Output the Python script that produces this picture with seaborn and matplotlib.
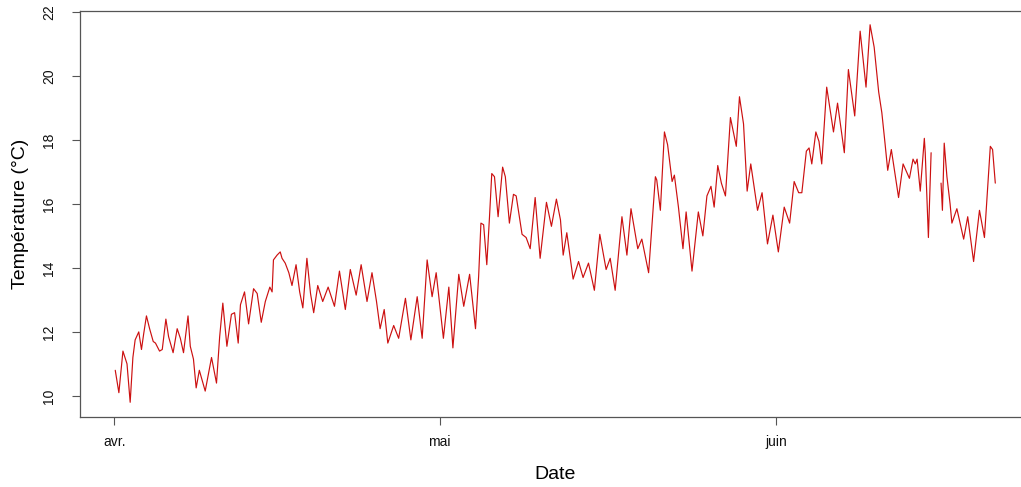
import numpy as np
import pandas as pd
import matplotlib
matplotlib.use("Agg")
import matplotlib.pyplot as plt
import seaborn as sns

# relevés horaires (heures depuis le 1er avril)
start = "2019-04-01"
hours = [2, 10, 19, 28, 35, 41, 46, 54, 60, 65,
         71, 78, 86, 91, 100, 106, 114, 120, 130, 139,
         146, 153, 163, 168, 175, 181, 188, 194, 201, 215,
         226, 233, 240, 249, 259, 266, 274, 279, 288, 297,
         308, 316, 325, 334, 344, 349, 352, 360, 367, 371,
         378, 386, 393, 402, 410, 417, 426, 434, 441, 450,
         461, 473, 487, 498, 511, 522, 535, 546, 559, 570,
         580, 588, 597, 605, 618, 629, 644, 656, 670, 681,
         692, 703, 712, 728, 740, 749, 762, 773, 786, 799,
         806, 811, 817, 824, 830, 835, 841, 849, 859, 865,
         874, 883, 889, 902, 911, 920, 931, 942, 956, 967,
         978, 987, 993, 1001, 1015, 1027, 1037, 1049, 1062, 1074,
         1088, 1097, 1108, 1123, 1134, 1143, 1158, 1167, 1182, 1197,
         1200, 1208, 1217, 1224, 1234, 1239, 1248, 1258, 1265, 1278,
         1292, 1302, 1311, 1320, 1327, 1335, 1343, 1352, 1363, 1376,
         1383, 1392, 1400, 1408, 1423, 1433, 1445, 1457, 1469, 1482,
         1494, 1504, 1514, 1521, 1531, 1537, 1543, 1552, 1559, 1565,
         1576, 1591, 1600, 1615, 1624, 1638, 1650, 1663, 1672, 1681,
         1691, 1698, 1705, 1711, 1719, 1735, 1745, 1759, 1767, 1772,
         1776, 1783, 1792, 1794, 1801, 1807, 1818, 1829, 1832, 1836,
         1842, 1849, 1853, 1864, 1879, 1888, 1901, 1914, 1925, 1938, 1943, 1949]
temps = [10.8, 10.1, 11.4, 11.0, 9.8, 11.2, 11.75, 12.0, 11.45, 11.95,
         12.5, 12.1, 11.7, 11.65, 11.4, 11.45, 12.4, 11.85, 11.35, 12.1,
         11.8, 11.35, 12.5, 11.55, 11.15, 10.25, 10.8, 10.5, 10.15, 11.2,
         10.4, 11.85, 12.9, 11.55, 12.55, 12.6, 11.65, 12.85, 13.25, 12.25,
         13.35, 13.2, 12.3, 12.95, 13.4, 13.25, 14.25, 14.4, 14.5, 14.3,
         14.15, 13.85, 13.45, 14.1, 13.25, 12.75, 14.3, 13.2, 12.6, 13.45,
         12.95, 13.4, 12.8, 13.9, 12.7, 13.95, 13.15, 14.1, 12.95, 13.85,
         12.95, 12.1, 12.7, 11.65, 12.2, 11.8, 13.05, 11.75, 13.1, 11.8,
         14.25, 13.1, 13.85, 11.8, 13.4, 11.5, 13.8, 12.8, 13.8, 12.1,
         13.75, 15.4, 15.35, 14.1, 15.6, 16.95, 16.85, 15.6, 17.15, 16.85,
         15.4, 16.3, 16.25, 15.05, 14.95, 14.6, 16.2, 14.3, 16.05, 15.3,
         16.15, 15.5, 14.4, 15.1, 13.65, 14.2, 13.7, 14.15, 13.3, 15.05,
         13.95, 14.3, 13.3, 15.6, 14.4, 15.85, 14.6, 14.9, 13.85, 16.85,
         16.75, 15.8, 18.25, 17.85, 16.7, 16.9, 15.9, 14.6, 15.75, 13.9,
         15.75, 15.0, 16.25, 16.55, 15.9, 17.2, 16.65, 16.25, 18.7, 17.8,
         19.35, 18.5, 16.4, 17.25, 15.8, 16.35, 14.75, 15.65, 14.5, 15.9,
         15.4, 16.7, 16.35, 16.35, 17.65, 17.75, 17.25, 18.25, 17.95, 17.25,
         19.65, 18.25, 19.15, 17.6, 20.2, 18.75, 21.4, 19.65, 21.6, 20.9,
         19.5, 18.85, 17.9, 17.05, 17.7, 16.2, 17.25, 16.8, 17.4, 17.25,
         17.4, 16.4, 18.05, 17.6, 14.95, 17.6, np.nan, 16.65, 15.8, 17.9,
         16.85, 16.0, 15.4, 15.85, 14.9, 15.6, 14.2, 15.8, 14.95, 17.8, 17.7, 16.65]

month_starts = ["2019-04-01", "2019-05-01", "2019-06-01"]
month_labels = ["avr.", "mai", "juin"]
y_ticks = [10, 12, 14, 16, 18, 20, 22]

sns.set_style("white")
plt.rcParams["font.family"] = ["Liberation Sans", "DejaVu Sans"]

t0 = pd.Timestamp(start)
df = pd.DataFrame({"date": t0 + pd.to_timedelta(hours, unit="h"), "temp": temps})
df["segment"] = df["temp"].isna().cumsum()  # trou dans les mesures
df = df.dropna()

fig = plt.figure(figsize=(10.21, 4.87), dpi=100)
ax = fig.add_axes([80 / 1021, 70 / 487, 951 / 1021, 406 / 487])

sns.lineplot(data=df, x="date", y="temp", units="segment", estimator=None,
             sort=False, color="#cc1010", lw=0.85, ax=ax)

ax.set_xlim(t0 - pd.Timedelta(hours=76), t0 + pd.Timedelta(hours=2028))
ax.set_ylim(9.34, 22.03)
ax.set_yticks(y_ticks)
ax.set_xticks(pd.to_datetime(month_starts))
ax.set_xticklabels(month_labels)

for sp in ax.spines.values():
    sp.set_color("#555555")
    sp.set_linewidth(0.9)

ax.tick_params(axis="both", direction="out", length=6, width=0.8,
               bottom=True, left=True, color="#555555",
               labelsize=10, labelcolor="#111111")
ax.tick_params(axis="x", pad=7)
ax.tick_params(axis="y", pad=11, labelrotation=90)
for lab in ax.get_yticklabels():
    lab.set_va("center")

ax.set_xlabel("Date", fontsize=14, labelpad=12, color="black")
ax.set_ylabel("Température (°C)", fontsize=14, labelpad=10, color="black")

fig.savefig("out.png", dpi=100)
